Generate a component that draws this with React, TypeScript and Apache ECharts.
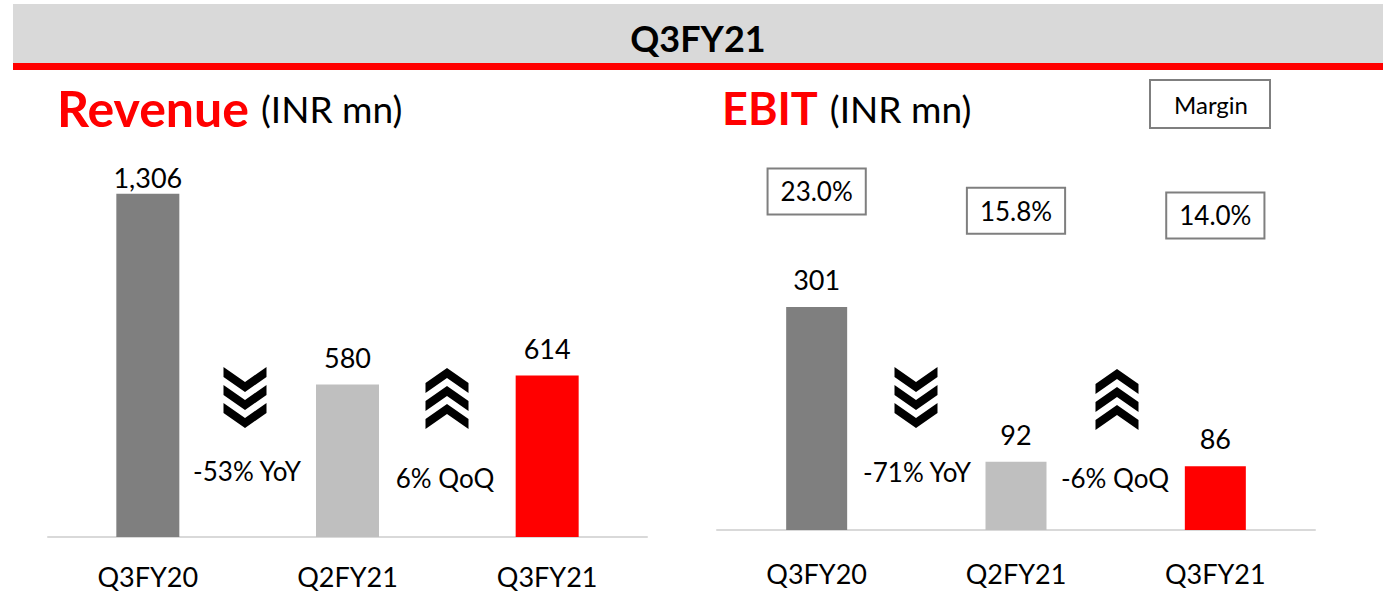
import React, { useEffect, useRef } from "react";
import * as echarts from "echarts";

const categories = ["Q3FY20", "Q2FY21", "Q3FY21"];
const revenue = [1306, 580, 614];
const ebit = [301, 92, 86];
const ebitMargin = [23.0, 15.8, 14.0];
const barColors = ["#7f7f7f", "#bfbfbf", "#ff0000"];
const headerTitle = "Q3FY21";
const revenueChanges = ["-53% YoY", "6% QoQ"];
const ebitChanges = ["-71% YoY", "-6% QoQ"];
const revenueArrows = ["down", "up"];
const ebitArrows = ["down", "up"];

const FONT = "Lato, 'Open Sans', sans-serif";

function chevronPolys(cx: number, top: number, dir: string) {
  const w = 43, h = 25, t = 10, s = 18;
  const out: any[] = [];
  for (let k = 0; k < 3; k++) {
    const oy = top + k * s;
    const pts =
      dir === "down"
        ? [
            [cx - w / 2, oy],
            [cx, oy + h - t],
            [cx + w / 2, oy],
            [cx + w / 2, oy + t],
            [cx, oy + h],
            [cx - w / 2, oy + t],
          ]
        : [
            [cx - w / 2, oy + h],
            [cx, oy + t],
            [cx + w / 2, oy + h],
            [cx + w / 2, oy + h - t],
            [cx, oy],
            [cx - w / 2, oy + h - t],
          ];
    out.push({ type: "polygon", shape: { points: pts }, style: { fill: "#000" }, silent: true });
  }
  return out;
}

export default function App() {
  const ref = useRef<HTMLDivElement>(null);
  useEffect(() => {
    document.body.style.margin = "0";
    const chart = echarts.init(ref.current!, null, { renderer: "svg" });

    const barData = (vals: number[], dists: number[]) =>
      vals.map((v, i) => ({
        value: v,
        itemStyle: { color: barColors[i] },
        label: { distance: dists[i] },
      }));

    const changeText = (x: number, y: number, text: string) => ({
      type: "text",
      x,
      y,
      style: {
        text,
        font: `26px ${FONT}`,
        fill: "#000",
        align: "center",
        verticalAlign: "middle",
      },
      silent: true,
    });

    const titleText = (x: number, main: string, size: number) => ({
      type: "text",
      x,
      y: 108,
      style: {
        text: `{a|${main}}{b|(INR mn)}`,
        verticalAlign: "middle",
        rich: {
          a: { fontSize: size, fontWeight: "bold", fill: "#ff0000", fontFamily: FONT, padding: [0, 12, 0, 0] },
          b: { fontSize: 37, fill: "#000", fontFamily: FONT },
        },
      },
      silent: true,
    });

    chart.setOption({
      animation: false,
      textStyle: { fontFamily: FONT },
      grid: [
        { left: 48, width: 599, top: 169, height: 368 },
        { left: 717, width: 598, top: 159.5, height: 370.5 },
      ],
      xAxis: [
        {
          gridIndex: 0,
          type: "category",
          data: categories,
          axisLine: { lineStyle: { color: "#d9d9d9", width: 2 } },
          axisTick: { show: false },
          axisLabel: { color: "#000", fontSize: 27, margin: 26, fontFamily: FONT },
        },
        {
          gridIndex: 1,
          type: "category",
          data: categories,
          axisLine: { lineStyle: { color: "#d9d9d9", width: 2 } },
          axisTick: { show: false },
          axisLabel: { color: "#000", fontSize: 27, margin: 30, fontFamily: FONT },
        },
      ],
      yAxis: [
        { gridIndex: 0, type: "value", min: 0, max: 1400, show: false, splitLine: { show: false } },
        { gridIndex: 1, type: "value", min: 0, max: 500, show: false, splitLine: { show: false } },
        { gridIndex: 1, type: "value", min: -104, max: 35, show: false, splitLine: { show: false } },
      ],
      series: [
        {
          type: "bar",
          xAxisIndex: 0,
          yAxisIndex: 0,
          barWidth: 63,
          data: barData(revenue, [3, 14, 14]),
          label: {
            show: true,
            position: "top",
            fontSize: 27,
            color: "#000",
            fontFamily: FONT,
            formatter: (p: any) => p.value.toLocaleString("en-US"),
          },
        },
        {
          type: "bar",
          xAxisIndex: 1,
          yAxisIndex: 1,
          barWidth: 61,
          data: barData(ebit, [14, 14, 14]),
          label: {
            show: true,
            position: "top",
            fontSize: 27,
            color: "#000",
            fontFamily: FONT,
            formatter: (p: any) => p.value.toLocaleString("en-US"),
          },
        },
        {
          type: "scatter",
          xAxisIndex: 1,
          yAxisIndex: 2,
          symbolSize: 1,
          itemStyle: { color: "rgba(0,0,0,0)", opacity: 1 },
          data: ebitMargin,
          z: 5,
          label: {
            show: true,
            position: "inside",
            fontSize: 26,
            color: "#000",
            opacity: 1,
            fontFamily: FONT,
            borderColor: "#7f7f7f",
            borderWidth: 2,
            backgroundColor: "#fff",
            padding: [9, 12, 9, 12],
            formatter: (p: any) => p.value.toFixed(1) + "%",
          },
        },
      ],
      graphic: [
        { type: "rect", shape: { x: 13, y: 4, width: 1370, height: 60 }, style: { fill: "#d9d9d9" }, silent: true },
        { type: "rect", shape: { x: 13, y: 63, width: 1370, height: 7 }, style: { fill: "#ff0000" }, silent: true },
        {
          type: "text",
          x: 698,
          y: 38,
          style: { text: headerTitle, font: `bold 36px ${FONT}`, fill: "#000", align: "center", verticalAlign: "middle" },
          silent: true,
        },
        titleText(57, "Revenue", 50),
        titleText(722, "EBIT", 45),
        {
          type: "rect",
          shape: { x: 1150, y: 80, width: 120, height: 48 },
          style: { fill: "#fff", stroke: "#7f7f7f", lineWidth: 2 },
          silent: true,
        },
        {
          type: "text",
          x: 1211,
          y: 104,
          style: { text: "Margin", font: `24px ${FONT}`, fill: "#000", align: "center", verticalAlign: "middle" },
          silent: true,
        },
        ...chevronPolys(245, 367, revenueArrows[0]),
        ...chevronPolys(447, 368, revenueArrows[1]),
        ...chevronPolys(916, 367, ebitArrows[0]),
        ...chevronPolys(1117, 369, ebitArrows[1]),
        changeText(247, 471, revenueChanges[0]),
        changeText(445, 478, revenueChanges[1]),
        changeText(917, 472, ebitChanges[0]),
        changeText(1115, 478, ebitChanges[1]),
      ],
    });
    return () => chart.dispose();
  }, []);
  return <div ref={ref} style={{ width: 1390, height: 595 }} />;
}
